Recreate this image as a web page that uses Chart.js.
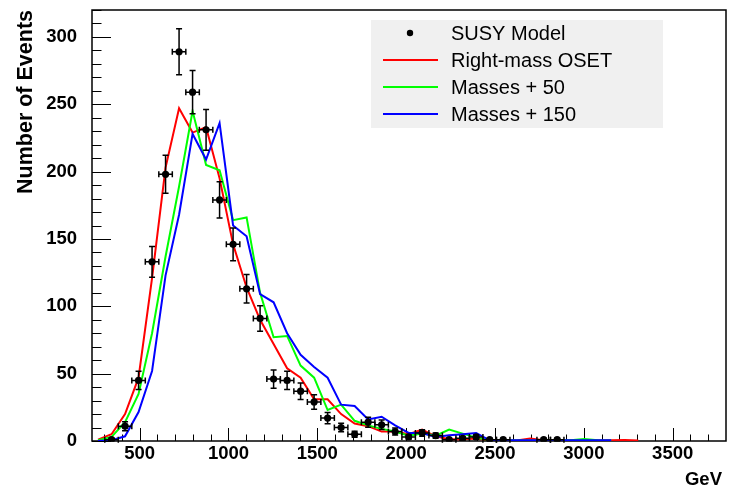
<!DOCTYPE html>
<html><head><meta charset="utf-8">
<script src="https://cdn.jsdelivr.net/npm/chart.js@4.4.0/dist/chart.umd.min.js"></script>
<style>html,body{margin:0;padding:0;background:#fff;}#wrap{width:730px;height:489px;}</style>
</head><body><div id="wrap"><canvas id="c" width="730" height="489"></canvas></div>
<script>
// ---- data (GeV bin centres, event counts) ----
const susyX = [342,418,494,570,646,722,798,874,950,1026,1102,1178,1254,1330,1406,1482,1558,1634,1710,1786,1862,1938,2014,2090,2166,2242,2318,2394,2470,2546,2774,2850];
const susyY = [1,11,45,133,198,289,259,231,179,146,113,91,46,45,37,29,17,10,5,14,12,7,3,6,4,1,2,3,1,1,1,1];
const susyErr = [1,3.3,6.7,11.5,14.1,17,16.1,15.2,13.4,12.1,10.6,9.5,6.8,6.7,6.1,5.4,4.1,3.2,2.2,3.7,3.5,2.6,1.7,2.4,2,1,1.4,1.7,1,1,1,1];
const binHalfWidth = 38;

const modelX = [266,342,418,494,570,646,722,798,874,950,1026,1102,1178,1254,1330,1406,1482,1558,1634,1710,1786,1862,1938,2014,2090,2166,2242,2318,2394,2470,2546,2622,2698,2774,2850,2926,3002,3078,3154,3230,3306];
const rightMass = [1,5,20,47,121,203,247,229,233,195,146,114,90,72,54,47,31,31,20,13,11,7,7,5,8.5,3.5,1.3,1.3,1.8,0.5,0.5,0.3,1.8,0.5,0.3,0.3,0.3,0.3,0.5,0.8,0.3];
const masses50 = [0.5,3,14,35,80,137,189,245,205,201,164,166,110,77,78,56,47,23,27,15,11.6,9,7,4,5.5,4,8.5,5.5,2.5,0.5,0.5,0.3,0.3,0.3,0.5,0.5,1.5,0.5,0.3,null,null];
const masses150 = [0,0.5,3.5,21.5,52,123,168,228,209,236,160,152,109,103,80,64,55,47,27,26,16,18,11.6,6,6,3,4.2,5,6,0.5,0.5,0.5,0.5,0.5,0.5,0.5,0.5,0.5,0.5,null,null];

const seriesNames = ['SUSY Model','Right-mass OSET','Masses + 50','Masses + 150'];
const xTicks = [500,1000,1500,2000,2500,3000,3500];
const yTicks = [0,50,100,150,200,250,300];
const xTitle = 'GeV';
const yTitle = 'Number of Events';

const pts = (xs, ys) => xs.map((x,i)=>({x:x, y:ys[i]}));

const FONT = "'Liberation Sans', Arial, Helvetica, sans-serif";

const rootStyle = {
  id: 'rootStyle',
  beforeDatasetsDraw(chart) {
    const {ctx, chartArea: a, scales: {x, y}} = chart;
    ctx.save();
    ctx.strokeStyle = '#000';
    ctx.lineWidth = 1;
    for (let v = 300; v <= 3800; v += 100) {
      const px = Math.round(x.getPixelForValue(v)) + 0.5;
      if (px < a.left || px > a.right) continue;
      const len = (v % 500 === 0) ? 13 : 6.5;
      ctx.beginPath(); ctx.moveTo(px, a.bottom); ctx.lineTo(px, a.bottom - len); ctx.stroke();
    }
    for (let v = 0; v <= 320; v += 10) {
      const py = Math.round(y.getPixelForValue(v)) + 0.5;
      const len = (v % 50 === 0) ? 19 : 9.5;
      ctx.beginPath(); ctx.moveTo(a.left, py); ctx.lineTo(a.left + len, py); ctx.stroke();
    }
    ctx.lineWidth = 1.5;
    ctx.strokeRect(a.left, a.top, a.right - a.left, a.bottom - a.top);
    ctx.fillStyle = '#000';
    ctx.font = 'bold 18.5px ' + FONT;
    ctx.textAlign = 'right'; ctx.textBaseline = 'alphabetic';
    ctx.fillText(xTitle, 722, 485);
    ctx.save();
    ctx.translate(31.5, a.top);
    ctx.rotate(-Math.PI/2);
    ctx.textAlign = 'right';
    ctx.font = 'bold 21.5px ' + FONT;
    ctx.fillText(yTitle, 0, 0);
    ctx.restore();
    ctx.restore();
  },
  beforeDatasetDraw(chart, args) {
    if (args.index !== 0) return;
    const {ctx, scales: {x, y}} = chart;
    ctx.save();
    ctx.strokeStyle = '#000';
    ctx.lineWidth = 1.5;
    susyX.forEach((xv, i) => {
      const px = x.getPixelForValue(xv), py = y.getPixelForValue(susyY[i]);
      const pt = y.getPixelForValue(susyY[i] + susyErr[i]);
      const pb = y.getPixelForValue(Math.max(0, susyY[i] - susyErr[i]));
      const pl = x.getPixelForValue(xv - binHalfWidth), pr = x.getPixelForValue(xv + binHalfWidth);
      const c = 3;
      ctx.beginPath();
      ctx.moveTo(px, pt); ctx.lineTo(px, pb);
      ctx.moveTo(px - c, pt); ctx.lineTo(px + c, pt);
      ctx.moveTo(px - c, pb); ctx.lineTo(px + c, pb);
      ctx.moveTo(pl, py); ctx.lineTo(pr, py);
      ctx.moveTo(pl, py - c); ctx.lineTo(pl, py + c);
      ctx.moveTo(pr, py - c); ctx.lineTo(pr, py + c);
      ctx.stroke();
    });
    ctx.restore();
  },
  afterDraw(chart) {
    const {ctx} = chart;
    ctx.save();
    ctx.fillStyle = '#f0f0f0';
    ctx.fillRect(371, 20, 292, 108);
    const rows = [33, 60, 87, 114];
    ctx.font = '20px ' + FONT;
    ctx.textBaseline = 'middle';
    ctx.textAlign = 'left';
    chart.data.datasets.forEach((ds, i) => {
      const yy = rows[i];
      if (i === 0) {
        ctx.fillStyle = '#000';
        ctx.beginPath(); ctx.arc(410, yy, 3.2, 0, Math.PI*2); ctx.fill();
      } else {
        ctx.strokeStyle = ds.borderColor; ctx.lineWidth = 2;
        ctx.beginPath(); ctx.moveTo(383, yy); ctx.lineTo(438, yy); ctx.stroke();
      }
      ctx.fillStyle = '#000';
      ctx.fillText(ds.label, 451, yy + 1);
    });
    ctx.restore();
  }
};

new Chart(document.getElementById('c'), {
  type: 'scatter',
  data: {
    datasets: [
      {label: seriesNames[0], data: pts(susyX, susyY), showLine: false, pointRadius: 3.6, pointBackgroundColor: '#000', pointBorderWidth: 0, order: 0},
      {label: seriesNames[1], data: pts(modelX, rightMass), showLine: true, borderColor: '#ff0000', borderWidth: 2, pointRadius: 0, order: 3, spanGaps: false},
      {label: seriesNames[2], data: pts(modelX, masses50), showLine: true, borderColor: '#00ff00', borderWidth: 2, pointRadius: 0, order: 2, spanGaps: false},
      {label: seriesNames[3], data: pts(modelX, masses150), showLine: true, borderColor: '#0000ff', borderWidth: 2, pointRadius: 0, order: 1, spanGaps: false}
    ]
  },
  options: {
    responsive: false, animation: false, devicePixelRatio: 1,
    layout: {padding: {left: 0, right: 0, top: 10, bottom: 0}},
    plugins: {legend: {display: false}, tooltip: {enabled: false}},
    scales: {
      x: {
        type: 'linear', min: 232, max: 3800,
        grid: {display: false}, border: {display: false},
        afterBuildTicks: s => { s.ticks = xTicks.map(v => ({value: v})); },
        afterFit: s => { s.height = 48; s.paddingLeft = 0; s.paddingRight = 0; },
        ticks: {autoSkip: false, maxRotation: 0, padding: -6, color: '#000', font: {family: FONT, size: 18.5, weight: 'bold'}, callback: v => String(v)}
      },
      y: {
        type: 'linear', min: 0, max: 320,
        grid: {display: false}, border: {display: false},
        afterBuildTicks: s => { s.ticks = yTicks.map(v => ({value: v})); },
        afterFit: s => { s.width = 92; s.paddingTop = 0; s.paddingBottom = 0; },
        ticks: {autoSkip: false, padding: 7, color: '#000', font: {family: FONT, size: 18.5, weight: 'bold'}, callback: v => String(v)}
      }
    }
  },
  plugins: [rootStyle]
});
</script></body></html>
